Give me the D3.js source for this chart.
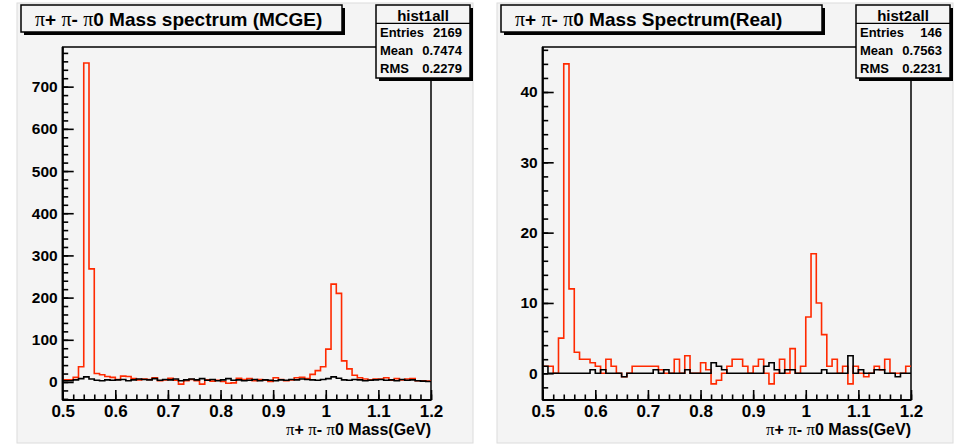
<!DOCTYPE html>
<html><head><meta charset="utf-8">
<script src="https://cdn.jsdelivr.net/npm/d3@7"></script>
<style>body{margin:0;background:#fff}svg{display:block}</style>
</head><body><svg id="c" width="958" height="448"></svg>
<script>
// ---- data ----
const binLow = 0.5, binWidth = 0.01, nBins = 70;
const xTickValues = [0.5,0.6,0.7,0.8,0.9,1.0,1.1,1.2];
const xTickLabels = ["0.5","0.6","0.7","0.8","0.9","1","1.1","1.2"];
const leftYTicks = [0,100,200,300,400,500,600,700];
const rightYTicks = [0,10,20,30,40];
const leftRed = [5,5,11,36,756,268,20,17,13,11,6,14,13,8,5,7,6,10,3,5,9,4,-5,3,6,3,-5,5,2,4,1,-3,-2,9,6,8,3,6,4,1,10,6,3,5,10,11,8,18,27,36,78,232,210,50,31,16,10,7,5,7,7,10,4,8,5,7,8,3,3,2];
const leftBlack = [3,3,5,8,12,7,4,3,5,4,5,6,3,5,7,6,5,8,4,6,5,7,3,5,7,5,8,4,6,3,5,8,4,5,3,4,6,3,5,4,3,5,4,6,5,7,6,5,4,6,8,12,9,5,4,6,5,3,4,5,6,4,5,3,6,4,5,3,2,1];
const rightRed = [1,1,0,5,44,12,3,2,2,1.5,1,0,2,1,0,-0.5,0,1,1,1,1,1,0.5,0,0,2,0,2.5,0,0,1.5,0.5,-1.5,-1,0,1,2,2,1,0,1,2,0,-1.5,0,2,0,3.5,0,1,8,17,10,5.5,1,2,0,1,-1.5,1,0,-0.5,0,1,0.5,2,0,0,0,1];
const rightBlack = [1,0,0,0,0,0,0,0,0,0.5,0,0.5,0,0,0,-0.5,0,0,0,0,0,0.5,0,0.5,0,0,0,0.5,0,0,0,0,1.5,1,0.5,0,0,0,0,0,0,0,1,1.5,0.5,0,0.5,0.5,0,0,0,0,0,0.5,0,0,0,0,2.5,0,0.5,0,0,0.5,0.5,0,0,-0.5,0,0];
const panels = [
  {title:"Mass spectrum (MCGE)", stat:"hist1all", entries:"2169", mean:"0.7474", rms:"0.2279",
   red:leftRed, black:leftBlack, yTicks:leftYTicks, yDomain:[-42.7,794], yMinorStep:20, xoff:0},
  {title:"Mass Spectrum(Real)", stat:"hist2all", entries:"146", mean:"0.7563", rms:"0.2231",
   red:rightRed, black:rightBlack, yTicks:rightYTicks, yDomain:[-3.8,46.4], yMinorStep:2, xoff:480}
];

const svg = d3.select("#c");
const FONT = "'Liberation Sans', Arial, Helvetica, sans-serif";
const SERIF = "'Liberation Serif', 'Times New Roman', serif";

function piText(sel, parts){
  parts.forEach(([t,p])=>{
    sel.append("tspan").text(t)
      .attr("font-family", p?SERIF:FONT)
      .attr("font-weight", p?"normal":"bold")
      .attr("font-size", p?"1.05em":"1em");
  });
}

panels.forEach(P=>{
  const g = svg.append("g").attr("transform",`translate(${P.xoff},0)`);
  g.append("rect").attr("x",17).attr("y",3).attr("width",456).attr("height",440)
    .attr("fill","#f4f4f4").attr("stroke","#dcdcdc").attr("stroke-width",1);
  const x = d3.scaleLinear().domain([0.5,1.2]).range([62.7,431]);
  const y = d3.scaleLinear().domain(P.yDomain).range([400,47]);
  g.append("rect").attr("x",x(0.5)).attr("y",y.range()[1]).attr("width",x(1.2)-x(0.5))
    .attr("height",400-47).attr("fill","none").attr("stroke","#000").attr("stroke-width",1.5);

  const edges = d3.range(nBins).map(i=>binLow+i*binWidth);
  const line = d3.line().x(d=>x(d[0])).y(d=>y(d[1])).curve(d3.curveStepAfter);
  const pts = arr => edges.map((e,i)=>[e,arr[i]]).concat([[1.2,arr[nBins-1]]]);
  g.append("path").attr("d",line(pts(P.red))).attr("fill","none")
    .attr("stroke","#ff2a00").attr("stroke-width",1.6);
  g.append("path").attr("d",line(pts(P.black))).attr("fill","none")
    .attr("stroke","#000").attr("stroke-width",1.6);

  const yMinor = d3.range(P.yTicks[0], P.yDomain[1], P.yMinorStep)
    .concat(d3.range(P.yTicks[0]-P.yMinorStep, P.yDomain[0], -P.yMinorStep));
  const ya = g.append("g").attr("transform",`translate(${x(0.5)},0)`);
  ya.call(d3.axisLeft(y).tickValues(yMinor).tickSize(-5.5).tickSizeOuter(0).tickFormat(""));
  const yb = g.append("g").attr("transform",`translate(${x(0.5)},0)`);
  yb.call(d3.axisLeft(y).tickValues(P.yTicks).tickSize(-11).tickSizeOuter(0).tickPadding(5).tickFormat(d3.format("d")));
  [ya,yb].forEach(a=>{a.select(".domain").remove();a.selectAll("line").attr("stroke","#000").attr("stroke-width",1.6);});
  yb.selectAll("text").attr("font-family",FONT).attr("font-weight","bold").attr("font-size",15.5).attr("fill","#000");

  const xMinor = d3.range(0,36).map(i=>0.5+i*0.02);
  const xa = g.append("g").attr("transform","translate(0,400)");
  xa.call(d3.axisBottom(x).tickValues(xMinor).tickSize(-5.5).tickSizeOuter(0).tickFormat(""));
  const xb = g.append("g").attr("transform","translate(0,400)");
  xb.call(d3.axisBottom(x).tickValues(xTickValues).tickSize(-10).tickSizeOuter(0).tickPadding(5)
    .tickFormat((d,i)=>xTickLabels[i]));
  [xa,xb].forEach(a=>{a.select(".domain").remove();a.selectAll("line").attr("stroke","#000").attr("stroke-width",1.6);});
  xb.selectAll("text").attr("font-family",FONT).attr("font-weight","bold").attr("font-size",17).attr("fill","#000");
  g.append("line").attr("x1",x(0.5)).attr("x2",x(0.5)).attr("y1",47).attr("y2",400).attr("stroke","#000").attr("stroke-width",2.2);
  g.append("line").attr("x1",x(0.5)).attr("x2",x(1.2)).attr("y1",400).attr("y2",400).attr("stroke","#000").attr("stroke-width",2.2);

  const xt = g.append("text").attr("x",431).attr("y",435).attr("text-anchor","end").attr("font-size",16).attr("fill","#000");
  piText(xt, [["π",1],["+ ",0],["π",1],["- ",0],["π",1],["0 Mass(GeV)",0]]);

  g.append("rect").attr("x",24).attr("y",8).attr("width",321).attr("height",27).attr("fill","#000");
  g.append("rect").attr("x",21).attr("y",5).attr("width",321).attr("height",27).attr("fill","#f4f4f4")
    .attr("stroke","#000").attr("stroke-width",1.5);
  const tt = g.append("text").attr("x",35).attr("y",26).attr("font-size",19).attr("fill","#000");
  piText(tt, [["π",1],["+ ",0],["π",1],["- ",0],["π",1],["0 "+P.title,0]]);

  const bx=376, bw=94, by=5, bh=73;
  g.append("rect").attr("x",bx+3).attr("y",by+3).attr("width",bw).attr("height",bh).attr("fill","#000");
  g.append("rect").attr("x",bx).attr("y",by).attr("width",bw).attr("height",bh).attr("fill","#f4f4f4")
    .attr("stroke","#000").attr("stroke-width",1.5);
  g.append("line").attr("x1",bx).attr("x2",bx+bw).attr("y1",23.3).attr("y2",23.3).attr("stroke","#000").attr("stroke-width",1.2);
  g.append("text").attr("x",bx+bw/2).attr("y",21).attr("text-anchor","middle").attr("font-family",FONT)
    .attr("font-weight","bold").attr("font-size",15).text(P.stat);
  [["Entries",P.entries,37],["Mean",P.mean,55],["RMS",P.rms,72.5]].forEach(([k,v,yy])=>{
    g.append("text").attr("x",bx+4).attr("y",yy).attr("font-family",FONT).attr("font-weight","bold").attr("font-size",13).text(k);
    g.append("text").attr("x",bx+bw-8).attr("y",yy).attr("text-anchor","end").attr("font-family",FONT).attr("font-weight","bold").attr("font-size",13).text(v);
  });
});
</script></body></html>
